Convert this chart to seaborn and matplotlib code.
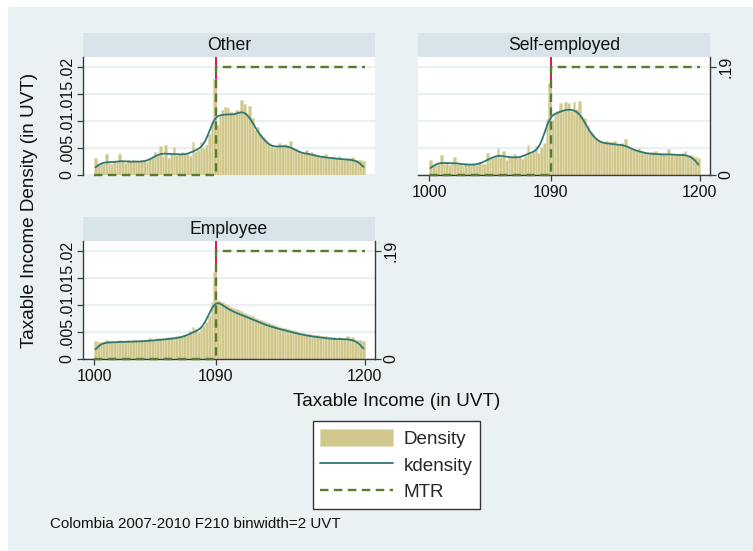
import numpy as np
import matplotlib
matplotlib.use("Agg")
import matplotlib.pyplot as plt
import seaborn as sns
from matplotlib.patches import Rectangle, Patch
from matplotlib.lines import Line2D

sns.set_theme(style="white")
plt.rcParams['font.family'] = ['Liberation Sans', 'DejaVu Sans']

# ---------------------------------------------------------------- data
BIN_START, BIN_END, BIN_WIDTH = 1000, 1200, 2
bin_centers = np.arange(BIN_START, BIN_END, BIN_WIDTH) + BIN_WIDTH / 2

# histogram densities per 2-UVT bin (in units of 1e-3)
density_other = [
    3.2, 2.0, 2.2, 2.0, 3.8, 2.3, 2.0, 2.5, 2.4, 3.8,
    2.6, 2.3, 2.7, 2.6, 2.8, 2.6, 2.5, 2.8, 2.6, 2.4,
    3.0, 3.2, 4.2, 3.5, 5.3, 3.4, 5.5, 3.2, 3.8, 5.1,
    3.7, 3.9, 4.3, 4.0, 3.8, 3.6, 6.1, 4.2, 4.6, 6.2,
    5.0, 5.5, 7.5, 9.8, 17.8, 9.2, 11.0, 12.1, 12.6, 12.4,
    11.6, 11.4, 12.0, 11.8, 13.8, 13.2, 11.4, 12.8, 10.5, 8.3,
    8.8, 7.6, 7.0, 6.4, 6.0, 5.4, 5.0, 5.6, 6.0, 5.6,
    5.8, 5.5, 6.3, 5.0, 4.8, 4.5, 4.2, 4.0, 4.6, 4.0,
    4.3, 3.8, 3.6, 3.4, 3.5, 3.8, 3.3, 3.2, 3.3, 3.1,
    3.6, 3.0, 2.9, 3.1, 3.0, 3.3, 2.8, 2.7, 2.7, 2.5,
]
density_self = [
    2.8, 1.9, 1.8, 2.1, 3.7, 2.0, 2.2, 1.9, 2.1, 3.4,
    2.0, 2.2, 1.7, 2.3, 2.0, 1.9, 2.1, 1.8, 2.4, 2.0,
    2.1, 4.0, 3.0, 3.2, 3.5, 5.0, 3.3, 4.4, 2.8, 3.6,
    3.3, 3.9, 3.2, 3.4, 3.0, 3.6, 5.5, 3.8, 4.2, 5.3,
    4.0, 5.2, 5.9, 10.4, 17.0, 10.2, 11.5, 11.8, 13.3, 12.0,
    13.5, 13.4, 11.8, 13.6, 12.2, 13.7, 11.0, 10.5, 9.0, 8.0,
    7.6, 6.8, 6.5, 6.2, 6.0, 6.3, 6.2, 6.1, 6.3, 5.8,
    5.6, 5.9, 6.6, 5.4, 5.0, 4.8, 4.6, 5.0, 4.4, 4.3,
    4.1, 4.0, 4.2, 4.5, 3.9, 4.0, 3.8, 3.9, 4.8, 3.9,
    3.8, 3.7, 3.9, 4.0, 4.5, 3.6, 3.7, 3.5, 3.3, 3.2,
]
density_employee = [
    3.4, 3.2, 3.1, 3.2, 3.6, 3.3, 3.3, 3.2, 3.4, 3.5,
    3.4, 3.3, 3.5, 3.4, 3.5, 3.6, 3.4, 3.5, 3.6, 3.5,
    3.8, 3.6, 3.7, 3.8, 3.9, 3.8, 3.9, 4.0, 4.1, 4.0,
    4.3, 4.2, 4.3, 4.4, 4.5, 5.2, 5.9, 5.6, 5.0, 5.8,
    6.2, 6.8, 8.0, 10.6, 16.2, 11.0, 10.8, 10.6, 10.2, 10.0,
    9.6, 9.4, 9.2, 9.0, 8.8, 8.5, 8.4, 8.1, 7.9, 7.6,
    7.4, 7.2, 7.0, 6.8, 6.6, 6.4, 6.3, 6.1, 6.0, 5.8,
    5.8, 5.6, 5.4, 5.3, 5.1, 5.0, 4.9, 4.8, 4.7, 4.6,
    4.5, 4.4, 4.4, 4.3, 4.2, 4.2, 4.1, 4.0, 4.0, 3.9,
    4.1, 3.8, 3.9, 4.3, 3.8, 4.0, 3.6, 3.5, 3.5, 3.4,
]

panel_titles = ["Other", "Self-employed", "Employee"]
panel_density = [density_other, density_self, density_employee]

# marginal tax rate schedule
kink = 1090
mtr_income = [1000, 1090, 1200]
mtr_rate = [0.0, 0.19, 0.19]

x_ticks = [1000, 1090, 1200]
y_ticks = [0, 0.005, 0.01, 0.015, 0.02]
y_tick_labels = ["0", ".005", ".01", ".015", ".02"]
mtr_ticks = [0, 0.19]
mtr_tick_labels = ["0", ".19"]

# ---------------------------------------------------------------- style
W, H = 753, 551
BG = "#EAF1F3"
STRIP = "#D8E4E9"
BAR = "#CFC78B"
BAR_EDGE = "#E2DDB6"
KDE = "#2E7874"
MTR = "#5B7B2C"
KINK = "#E2003C"
AXIS = "#3A3A3A"
MTR_DASH = (0, (3.6, 2.3))
TXT = "#111111"

fig = plt.figure(figsize=(W / 100, H / 100), dpi=100, facecolor="white")
fig.add_artist(Rectangle((8 / W, 0), 1 - 8 / W, 1 - 7 / H, transform=fig.transFigure,
                         facecolor=BG, edgecolor="none", zorder=-10))


def px_axes(left, top, width, height):
    return fig.add_axes([left / W, 1 - (top + height) / H, width / W, height / H])


Y_TOP = 0.02185
X_LIM = (991.8, 1207.5)
PW, PH, STRIP_H = 292, 118, 24
# (left, top, show_left_axis, show_bottom_axis, show_right_axis)
layout = [
    (83, 57, True, False, False),
    (418, 57, False, True, True),
    (83, 241, True, True, True),
]

for title, dens, (left, top, show_l, show_b, show_r) in zip(panel_titles, panel_density, layout):
    dens = np.asarray(dens) / 1000.0

    # panel header strip
    fig.add_artist(Rectangle((left / W, 1 - top / H), PW / W, STRIP_H / H,
                             transform=fig.transFigure, facecolor=STRIP,
                             edgecolor="none", zorder=-5))
    fig.text((left + PW / 2) / W, 1 - (top - STRIP_H / 2) / H, title,
             ha="center", va="center", fontsize=12.7, color=TXT)

    ax = px_axes(left, top, PW, PH)
    ax.set_facecolor("white")
    ax.set_axisbelow(True)
    ax.yaxis.grid(True, color=BG, lw=1.6)
    ax.xaxis.grid(False)

    ax.axvline(kink, color=KINK, lw=1.3, zorder=0.8)
    sns.histplot(x=bin_centers, weights=dens, binwidth=BIN_WIDTH,
                 binrange=(BIN_START, BIN_END), stat="count",
                 color=BAR, edgecolor=BAR_EDGE, linewidth=0.5, alpha=1.0,
                 ax=ax, zorder=1)
    sns.kdeplot(x=bin_centers, weights=dens, bw_method=0.09, cut=0,
                color=KDE, lw=1.3, ax=ax, zorder=2)

    ax2 = ax.twinx()
    sns.lineplot(x=mtr_income, y=mtr_rate, drawstyle="steps-post", color=MTR,
                 lw=1.7, linestyle=MTR_DASH, ax=ax2, clip_on=False)

    ax.set_xlim(*X_LIM)
    ax.set_ylim(0, Y_TOP)
    ax2.set_ylim(0, 0.19 * Y_TOP / 0.02)
    ax.set_xlabel("")
    ax.set_ylabel("")
    ax2.set_ylabel("")

    for a in (ax, ax2):
        for s in a.spines.values():
            s.set_visible(False)
            s.set_color(AXIS)
            s.set_linewidth(1.0)

    # left axis
    ax.set_yticks(y_ticks)
    ax.set_yticklabels(y_tick_labels)
    if show_l:
        ax.spines["left"].set_visible(True)
        ax.tick_params(axis="y", left=True, labelleft=True, length=4.3, width=0.9,
                       color=AXIS, labelsize=11.5, pad=2, labelcolor=TXT)
        for lab in ax.get_yticklabels():
            lab.set_rotation(90)
            lab.set_va("center")
    else:
        ax.tick_params(axis="y", left=False, labelleft=False)

    # bottom axis
    ax.set_xticks(x_ticks)
    if show_b:
        ax.spines["bottom"].set_visible(True)
        ax.tick_params(axis="x", bottom=True, labelbottom=True, length=4.3, width=0.9,
                       color=AXIS, labelsize=11.5, pad=3, labelcolor=TXT)
    else:
        ax.tick_params(axis="x", bottom=False, labelbottom=False)

    # right axis (MTR)
    ax2.set_yticks(mtr_ticks)
    ax2.set_yticklabels(mtr_tick_labels)
    if show_r:
        ax2.spines["right"].set_visible(True)
        ax2.tick_params(axis="y", right=True, labelright=True, length=4.3, width=0.9,
                        color=AXIS, labelsize=11.5, pad=2, labelcolor=TXT)
        for lab in ax2.get_yticklabels():
            lab.set_rotation(90)
            lab.set_va("center")
    else:
        ax2.tick_params(axis="y", right=False, labelright=False)
    ax2.grid(False)

fig.text(30 / W, 1 - 210 / H, "Taxable Income Density (in UVT)", rotation=90,
         ha="center", va="center", fontsize=13.6, color=TXT)
fig.text(397 / W, 1 - 401 / H, "Taxable Income (in UVT)",
         ha="center", va="center", fontsize=13.6, color=TXT)
fig.text(50 / W, 1 - 524 / H, "Colombia 2007-2010 F210 binwidth=2 UVT",
         ha="left", va="center", fontsize=10.9, color=TXT)

handles = [
    Patch(facecolor=BAR, edgecolor=BAR_EDGE, linewidth=0.5),
    Line2D([], [], color=KDE, lw=1.3),
    Line2D([], [], color=MTR, lw=1.7, linestyle=MTR_DASH),
]
leg = fig.legend(handles, ["Density", "kdensity", "MTR"], loc="center",
                 bbox_to_anchor=(396.5 / W, 1 - 465 / H), frameon=True, fancybox=False,
                 edgecolor="#333333", facecolor="white", framealpha=1, fontsize=13.6,
                 handlelength=3.85, handleheight=1.05, labelspacing=0.4, borderpad=0.4,
                 handletextpad=0.58, borderaxespad=0)
leg.get_frame().set_linewidth(1.0)

fig.savefig("out.png", dpi=100, facecolor=fig.get_facecolor())
